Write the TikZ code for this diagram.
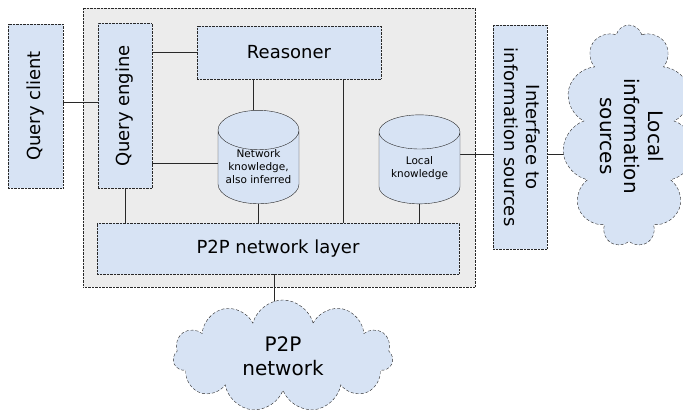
\documentclass[tikz,border=0pt]{standalone}
\usepackage{fontspec}
\setmainfont{DejaVu Sans}
\usetikzlibrary{shapes.geometric,shapes.symbols,backgrounds}
\definecolor{boxblue}{RGB}{215,227,244}
\definecolor{framegray}{RGB}{236,236,236}
\definecolor{edgegray}{RGB}{40,40,40}

\begin{document}
\begin{tikzpicture}[x=1pt, y=1pt,
    block/.style={draw=edgegray, densely dotted, fill=boxblue, inner sep=0pt,
      font=\fontsize{18}{22}\selectfont},
    store/.style={shape=cylinder, shape border rotate=90, aspect=0.6, draw=edgegray,
      fill=boxblue, align=center, inner sep=0pt, font=\fontsize{10.5}{13}\selectfont},
    puff/.style={shape=cloud, cloud puffs=11, cloud ignores aspect, draw=edgegray,
      densely dashed, fill=boxblue, inner sep=0pt, align=center,
      font=\fontsize{20}{24}\selectfont},
    link/.style={draw=edgegray, line width=0.9pt}]
  \useasboundingbox (0,0) rectangle (683,412);

  % components
  \node[block, minimum width=55, minimum height=164] (qclient) at (35.5,306)
    {\rotatebox{90}{Query client}};
  \node[block, minimum width=54, minimum height=165] (qengine) at (125,306)
    {\rotatebox{90}{Query engine}};
  \node[block, minimum width=184, minimum height=53] (reasoner) at (289,359.5) {Reasoner};
  \node[store, minimum width=81, minimum height=92] (nk) at (258.5,245)
    {Network\\knowledge,\\also inferred};
  \node[store, minimum width=81, minimum height=89] (lk) at (419.5,244)
    {Local\\knowledge};
  \node[block, minimum width=362, minimum height=51] (layer) at (278,163.5) {P2P network layer};
  \node[block, minimum width=54, minimum height=224] (iface) at (520,275)
    {\rotatebox{-90}{\begin{tabular}{@{}c@{}}Interface to\\information sources\end{tabular}}};
  \node[puff, minimum width=108, minimum height=222] (lcloud) at (629,276)
    {\rotatebox{-90}{\begin{tabular}{@{}c@{}}Local\\information\\sources\end{tabular}}};
  \node[puff, minimum width=220, minimum height=112] (p2p) at (283,56) {P2P\\network};

  \begin{scope}[on background layer]
    % frame of the peer
    \draw[draw=edgegray, densely dotted, fill=framegray] (83,125) rectangle (475,404);
    % links
    \draw[link] ([yshift=4pt]qclient.center) -- ([yshift=4pt]qengine.center);
    \draw[link] (reasoner.center) -- (reasoner.center -| qengine.center);
    \draw[link] ([yshift=4pt]nk.center) -- ([yshift=4pt]nk.center -| qengine.center);
    \draw[link] ([xshift=-5pt]nk.center) -- ([xshift=-5pt]nk.center |- reasoner.center);
    \draw[link] ([xshift=54pt]reasoner.center) -- ([xshift=54pt]reasoner.center |- layer.center);
    \draw[link] (qengine.center) -- (qengine.center |- layer.center);
    \draw[link] (nk.center) -- (nk.center |- layer.center);
    \draw[link] (lk.center) -- (lk.center |- layer.center);
    \draw[link] ([yshift=14pt]lk.center) -- ([yshift=14pt]lk.center -| iface.center);
    \draw[link] ([yshift=14pt]lk.center -| iface.center) -- ([yshift=14pt]lk.center -| lcloud.center);
    \draw[link] ([xshift=-4pt]layer.center) -- ([xshift=-4pt]layer.center |- p2p.center);
  \end{scope}
\end{tikzpicture}
\end{document}
